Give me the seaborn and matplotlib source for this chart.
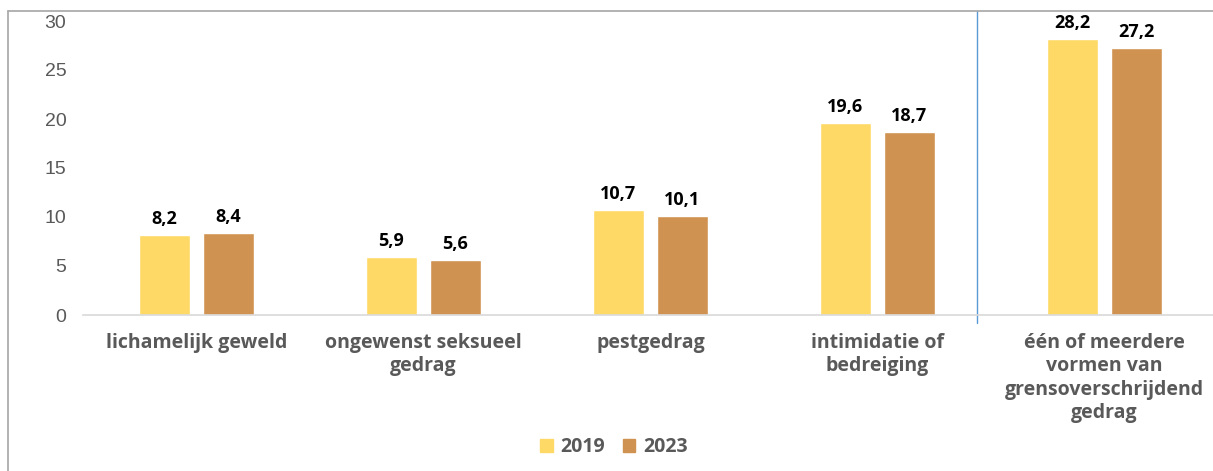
import matplotlib
matplotlib.use("Agg")
import matplotlib.pyplot as plt
from matplotlib.patches import Rectangle
from matplotlib.lines import Line2D
import seaborn as sns
import pandas as pd

categories = ["lichamelijk geweld", "ongewenst seksueel\ngedrag", "pestgedrag",
              "intimidatie of\nbedreiging",
              "één of meerdere\nvormen van\ngrensoverschrijdend\ngedrag"]
years = ["2019", "2023"]
values_2019 = [8.2, 5.9, 10.7, 19.6, 28.2]
values_2023 = [8.4, 5.6, 10.1, 18.7, 27.2]
yticks = [0, 5, 10, 15, 20, 25, 30]

colors = ["#FFD966", "#D09250"]
grey = "#595959"

df = pd.DataFrame({
    "cat": categories * 2,
    "year": [years[0]] * 5 + [years[1]] * 5,
    "value": values_2019 + values_2023,
})

sns.set_theme(style="white")
plt.rcParams["font.family"] = ["Liberation Sans", "DejaVu Sans"]

W, H = 1213, 471
fig = plt.figure(figsize=(W / 100, H / 100), dpi=100)
ax_left, ax_right, ax_top, ax_bottom = 83, 1213, 11, 315
ax = fig.add_axes([ax_left / W, 1 - ax_bottom / H, (ax_right - ax_left) / W, (ax_bottom - ax_top) / H])

sns.barplot(data=df, x="cat", y="value", hue="year", palette=colors, order=categories,
            hue_order=years, width=0.564, gap=0.20, ax=ax, legend=False, saturation=1)

unit = 227.0
ax.set_xlim(-0.5, -0.5 + (ax_right - ax_left) / unit)
ppu = (315 - 21) / 30.0
ax.set_ylim(0, (ax_bottom - ax_top) / ppu)
ax.set_yticks(yticks)
ax.set_yticklabels([str(t) for t in yticks], fontsize=14, color=grey)
ax.tick_params(axis="y", length=0, pad=12)
ax.tick_params(axis="x", length=0, pad=13)
ax.set_xticks(range(len(categories)))
ax.set_xticklabels(categories, fontsize=14, color=grey, fontweight="bold",
                   family=["Open Sans", "DejaVu Sans"], linespacing=1.22)
ax.set_xlabel("")
ax.set_ylabel("")
for s in ["top", "right", "left"]:
    ax.spines[s].set_visible(False)
ax.spines["bottom"].set_color("#D9D9D9")
ax.spines["bottom"].set_linewidth(1.2)

for cont in ax.containers:
    ax.bar_label(cont, labels=[f"{b.get_height():.1f}".replace(".", ",") for b in cont],
                 padding=5, fontsize=13, fontweight="bold", color="black",
                 family=["Open Sans", "DejaVu Sans"])

# separator line
sep_x = (977 - ax_left) / unit - 0.5
ax.plot([sep_x, sep_x], [-8 / ppu, (ax_bottom - ax_top) / ppu], color="#5B9BD5",
        lw=1.0, clip_on=False)

# outer frame (left and top)
fig.add_artist(Line2D([8 / W, 8 / W], [0, 1 - 11 / H], color="#A6A6A6", lw=1.2,
                      transform=fig.transFigure))
fig.add_artist(Line2D([8 / W, 1], [1 - 11 / H, 1 - 11 / H], color="#A6A6A6", lw=1.2,
                      transform=fig.transFigure))

handles = [Rectangle((0, 0), 1, 1, color=c) for c in colors]
leg = fig.legend(handles, years, loc="center", bbox_to_anchor=(0.506, 1 - 447 / H),
                 ncol=2, frameon=False, handlelength=0.65, handleheight=0.65,
                 handletextpad=0.4, columnspacing=0.9,
                 prop={"family": ["Open Sans", "DejaVu Sans"], "weight": "bold", "size": 14})
for t in leg.get_texts():
    t.set_color(grey)

fig.savefig("out.png", dpi=100)
